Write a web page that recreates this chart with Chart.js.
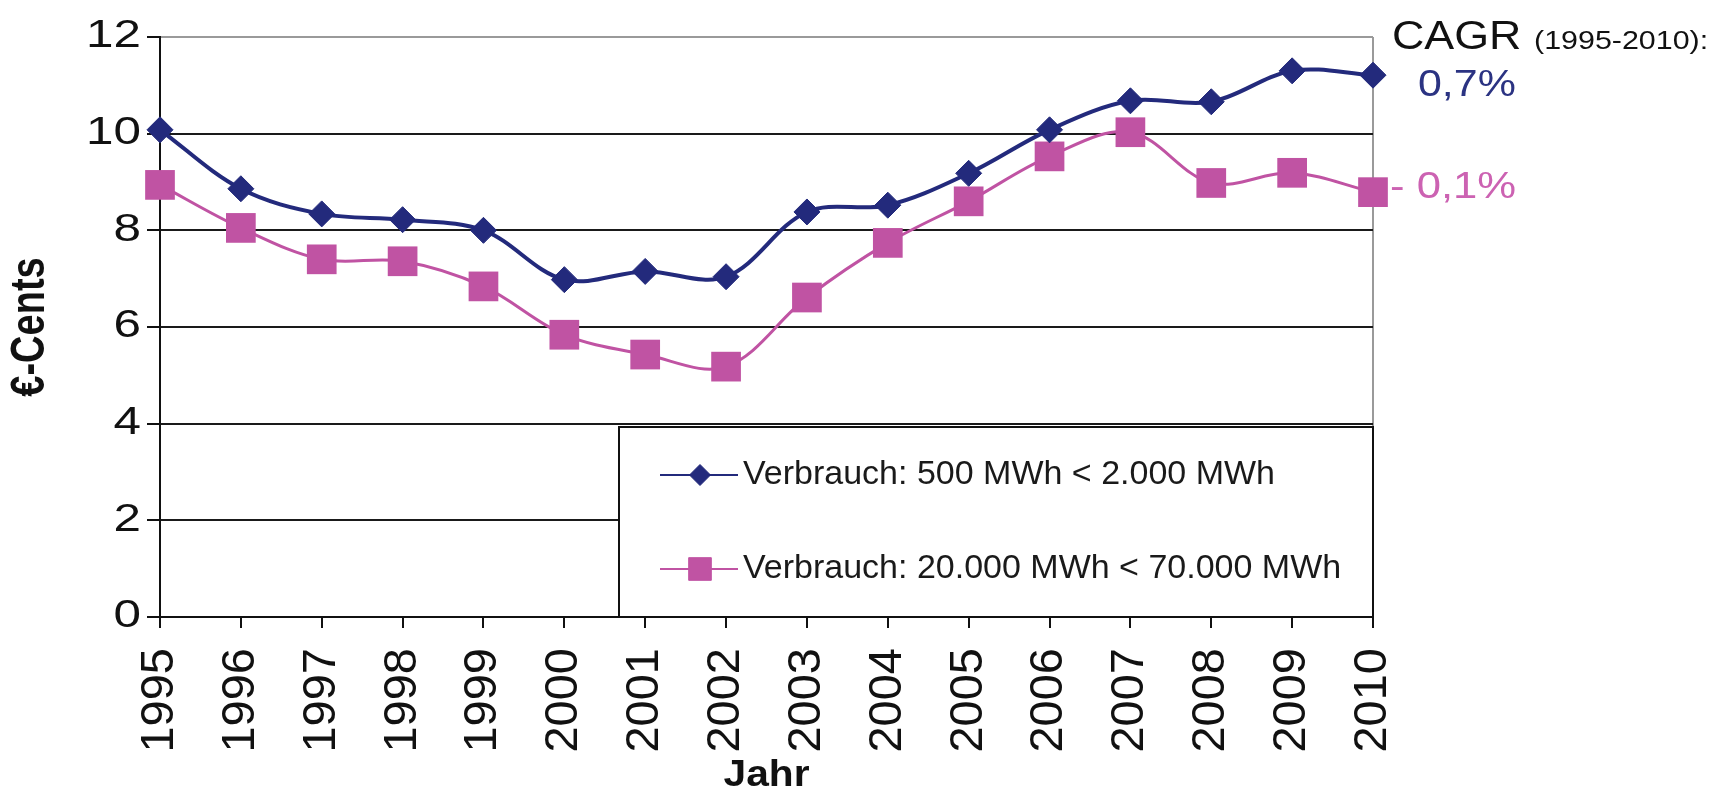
<!DOCTYPE html>
<html>
<head>
<meta charset="utf-8">
<script src="https://cdn.jsdelivr.net/npm/chart.js@4.4.1/dist/chart.umd.min.js"></script>
<style>
  html, body { margin: 0; padding: 0; background: #fff; }
  #wrap { width: 1717px; height: 788px; position: relative; }
</style>
</head>
<body>
<div id="wrap"><canvas id="preisChart"></canvas></div>
<script>
// Daten (Strompreise Industrie, €-Cents)
const jahre = ['1995','1996','1997','1998','1999','2000','2001','2002','2003','2004','2005','2006','2007','2008','2009','2010'];
const verbrauchKlein = [10.08, 8.86, 8.34, 8.22, 8.0, 6.98, 7.15, 7.04, 8.38, 8.52, 9.18, 10.08, 10.68, 10.66, 11.30, 11.21];
const verbrauchGross = [8.94, 8.05, 7.40, 7.36, 6.84, 5.84, 5.43, 5.18, 6.61, 7.74, 8.60, 9.53, 10.03, 8.98, 9.19, 8.79];
const serienNamen = ['Verbrauch: 500 MWh < 2.000 MWh', 'Verbrauch: 20.000 MWh < 70.000 MWh'];
const cagrTitel = 'CAGR';
const cagrZeitraum = '(1995-2010):';
const cagrWerte = ['0,7%', '- 0,1%'];
const yTicks = [0, 2, 4, 6, 8, 10, 12];
const yTitel = '€-Cents';
const xTitel = 'Jahr';

const BLAU = '#232a7c';
const PINK = '#c053a3';
const FONT = '"Liberation Sans", Arial, sans-serif';

// Text leicht in die Breite gezogen (Original ist horizontal gestreckt)
function breitText(ctx, txt, x, y, font, color, sx, align, baseline, rot) {
  ctx.save();
  ctx.translate(x, y);
  ctx.scale(sx, 1);
  if (rot) ctx.rotate(rot);
  ctx.font = font;
  ctx.fillStyle = color;
  ctx.textAlign = align || 'left';
  ctx.textBaseline = baseline || 'alphabetic';
  ctx.fillText(txt, 0, 0);
  ctx.restore();
}

// eigene Legende im Diagramm + CAGR-Beschriftung + Achsentexte
const extrasPlugin = {
  id: 'extras',
  afterDraw(chart) {
    const ctx = chart.ctx;
    const area = chart.chartArea;
    const yScale = chart.scales.y;
    const xScale = chart.scales.x;
    ctx.save();

    // y-Beschriftung
    yTicks.forEach(v => {
      breitText(ctx, String(v), 141, yScale.getPixelForValue(v), '38px ' + FONT, '#111', 1.3, 'right', 'middle');
    });
    breitText(ctx, yTitel, 31, (area.top + area.bottom) / 2, 'bold 38px ' + FONT, '#111', 1.25, 'center', 'middle', -Math.PI / 2);
    breitText(ctx, xTitel, (xScale.left + xScale.right) / 2, 786, 'bold 37px ' + FONT, '#111', 1.1, 'center', 'alphabetic');

    // Legendenkasten
    const bx = 619, by = 427, bw = area.right - bx, bh = area.bottom - by;
    ctx.fillStyle = '#fff';
    ctx.fillRect(bx, by, bw, bh);
    ctx.strokeStyle = '#111';
    ctx.lineWidth = 2;
    ctx.strokeRect(bx, by, bw, bh);

    const rows = [475, 569];
    chart.data.datasets.forEach((ds, i) => {
      const y = rows[i];
      ctx.strokeStyle = ds.borderColor;
      ctx.lineWidth = 2;
      ctx.beginPath();
      ctx.moveTo(660, y);
      ctx.lineTo(738, y);
      ctx.stroke();
      ctx.fillStyle = ds.backgroundColor;
      ctx.strokeStyle = ds.borderColor;
      ctx.lineWidth = 1;
      Chart.helpers.drawPoint(ctx, {
        pointStyle: ds.pointStyle,
        radius: i === 0 ? 10.5 : 16,
        rotation: 0,
        borderWidth: 1
      }, 700, y);
      ctx.fillStyle = '#1a1a1a';
      ctx.font = '34px ' + FONT;
      ctx.textBaseline = 'middle';
      ctx.textAlign = 'left';
      ctx.fillText(ds.label, 743, y);
    });

    // CAGR oben rechts
    breitText(ctx, cagrTitel, 1392, 49, '40px ' + FONT, '#111', 1.12);
    breitText(ctx, cagrZeitraum, 1534, 49, '26px ' + FONT, '#111', 1.17);
    breitText(ctx, cagrWerte[0], 1418, 96, '37px ' + FONT, '#2b3382', 1.16);
    breitText(ctx, cagrWerte[1], 1390, 198, '37px ' + FONT, '#cc62b2', 1.18);

    ctx.restore();
  }
};

const ctx = document.getElementById('preisChart');
new Chart(ctx, {
  type: 'line',
  data: {
    labels: jahre,
    datasets: [
      {
        label: serienNamen[0],
        data: verbrauchKlein,
        borderColor: BLAU,
        backgroundColor: BLAU,
        borderWidth: 4,
        tension: 0.35,
        pointStyle: 'rectRot',
        pointRadius: 13,
        pointBorderWidth: 1
      },
      {
        label: serienNamen[1],
        data: verbrauchGross,
        borderColor: PINK,
        backgroundColor: PINK,
        borderWidth: 3,
        tension: 0.35,
        pointStyle: 'rect',
        pointRadius: 21,
        pointBorderWidth: 0
      }
    ]
  },
  options: {
    responsive: true,
    maintainAspectRatio: false,
    animation: false,
    layout: { padding: { left: 0, right: 344, top: 37, bottom: 0 } },
    plugins: {
      legend: { display: false },
      tooltip: { enabled: false }
    },
    scales: {
      x: {
        offset: false,
        border: { color: '#111', width: 2 },
        grid: {
          color: c => c.index === jahre.length - 1 ? '#9a9a9a' : 'rgba(0,0,0,0)',
          lineWidth: 2,
          tickColor: '#111',
          tickLength: 11,
          tickWidth: 2
        },
        ticks: {
          autoSkip: false,
          minRotation: 90,
          maxRotation: 90,
          padding: 20,
          color: '#111',
          font: { family: FONT, size: 47 }
        },
        afterFit: s => { s.height = 171; }
      },
      y: {
        min: 0,
        max: 12,
        border: { color: '#111', width: 2 },
        afterBuildTicks: s => { s.ticks = yTicks.map(v => ({ value: v })); },
        grid: {
          color: c => c.tick && c.tick.value === 12 ? '#9a9a9a' : '#1a1a1a',
          lineWidth: 2,
          tickColor: '#111',
          tickLength: 13,
          tickWidth: 2
        },
        ticks: { display: false },
        afterFit: s => { s.width = 160; }
      }
    }
  },
  plugins: [extrasPlugin]
});
</script>
</body>
</html>
